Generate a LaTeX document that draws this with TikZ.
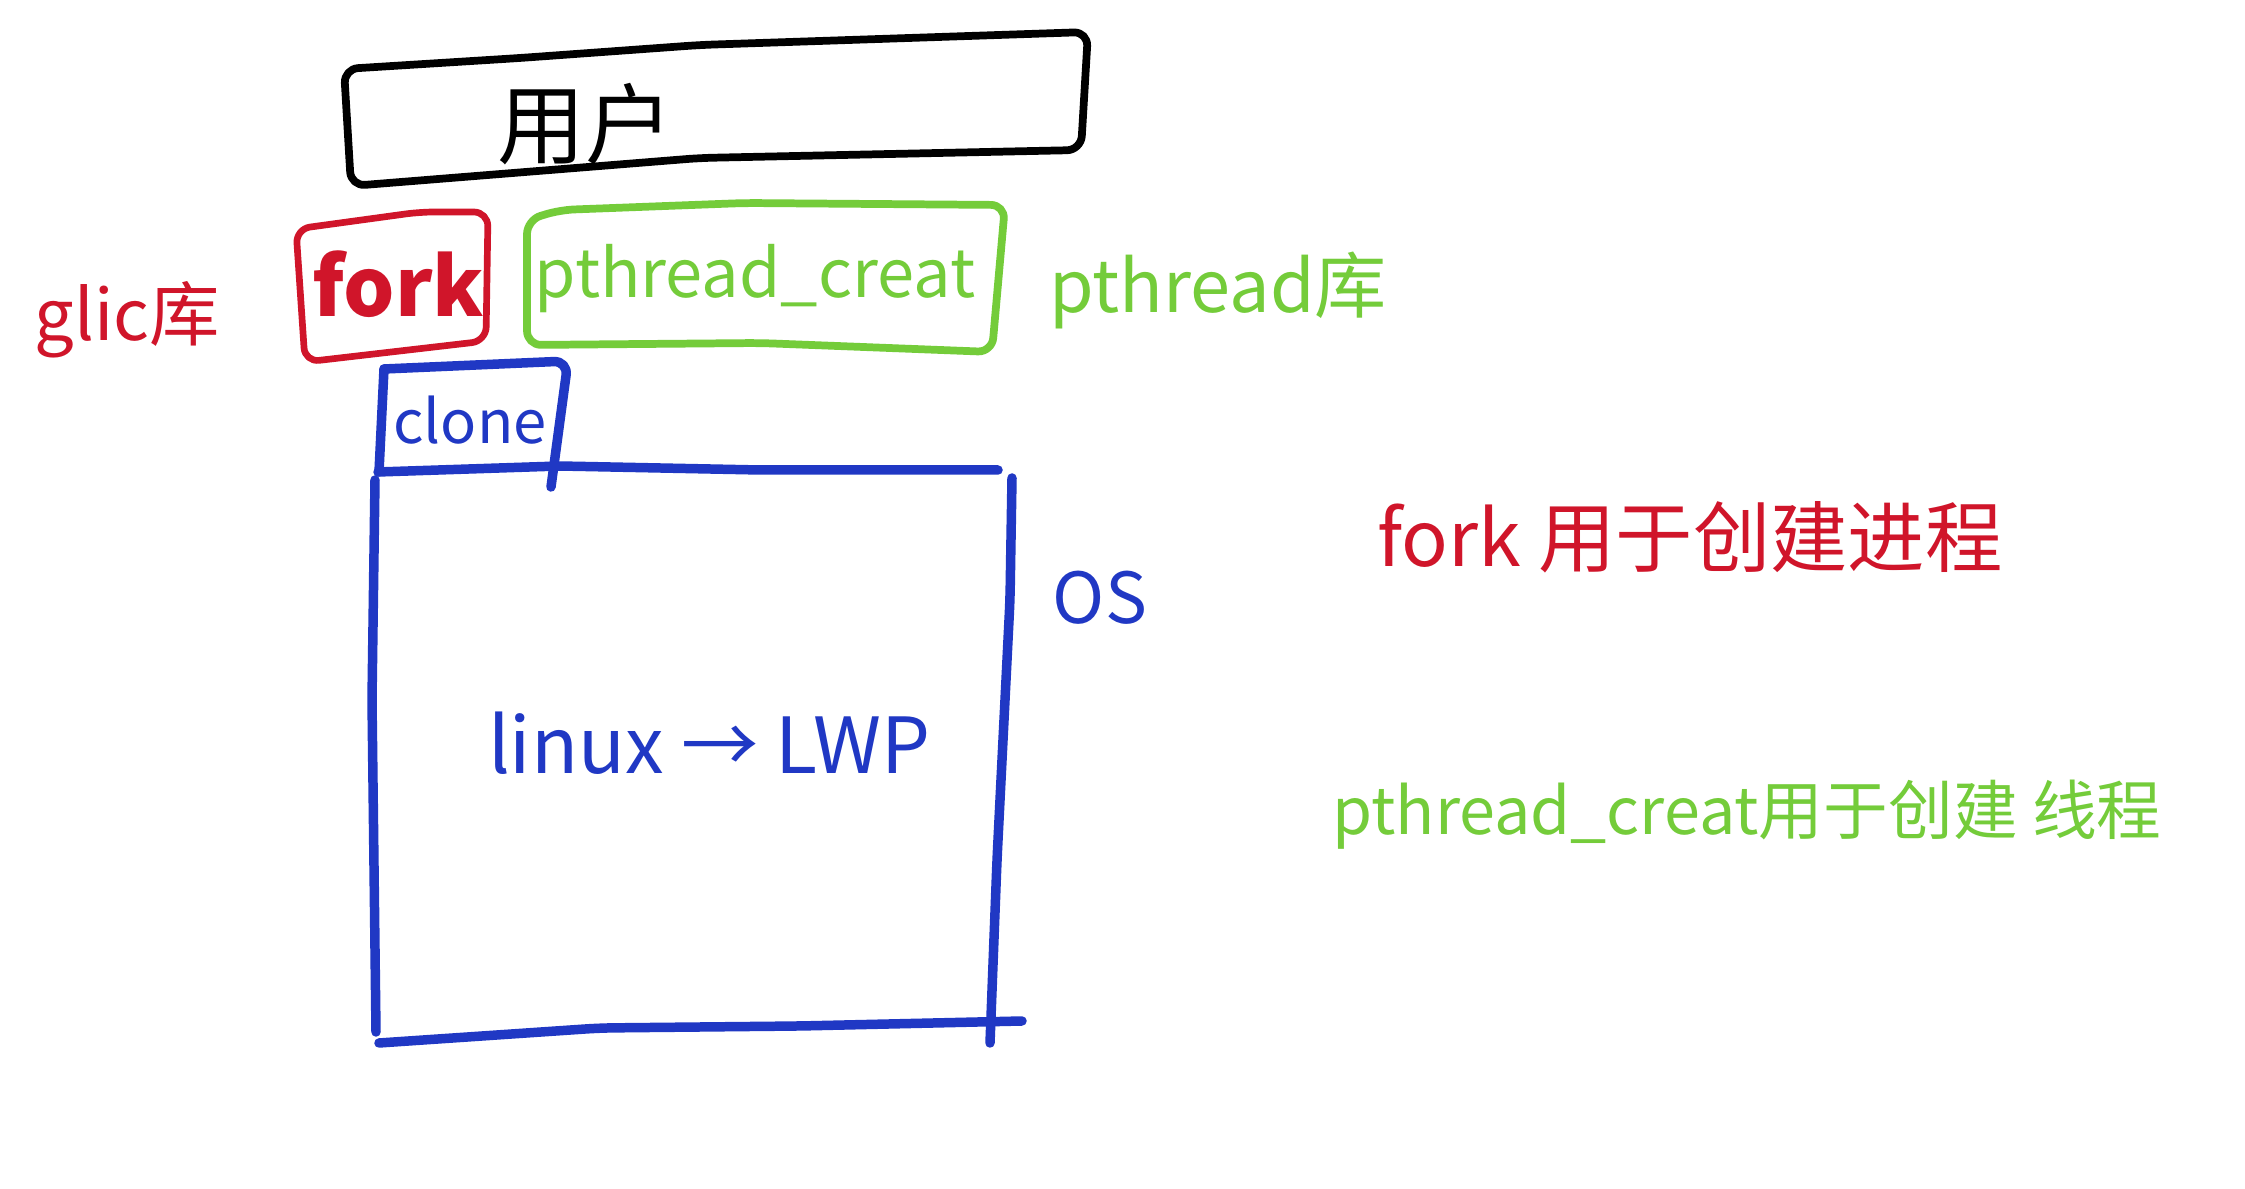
\documentclass[tikz,border=0pt]{standalone}
\usepackage{fontspec}
\newfontfamily\cjk{Noto Sans CJK SC}
\definecolor{hred}{HTML}{D0152A}
\definecolor{hgreen}{HTML}{74CC3A}
\definecolor{hblue}{HTML}{2038C4}
\tikzset{
  pen/.style={line width=2.2pt, line cap=round, line join=round, rounded corners=4pt},
  thickpen/.style={pen, line width=2.7pt},
  lbl/.style={font=\cjk, inner sep=0pt, anchor=center},
}
\begin{document}
\begin{tikzpicture}[x=0.01cm,y=-0.01cm]
\useasboundingbox[fill=white] (0,0) rectangle (2245,1189);
% user box
\draw[pen,black] (344,69) -- (520,58) -- (700,45) -- (1088,32) -- (1081,150) -- (700,158) -- (351,186) -- cycle;
\node[lbl,text=black,font=\cjk\fontsize{25}{28}\selectfont] (user) at (585,124) {用户};
% fork box
\draw[pen,hred,line width=1.9pt] (296,229) -- (420,212) -- (488,212) -- (486,341) -- (305,362) -- cycle;
\node[lbl,text=hred,font=\cjk\fontsize{23}{28}\selectfont\bfseries] (fork) at (398,284) {fork};
% pthread_creat box
\draw[pen,hgreen] (527,220) -- (560,210) -- (745,203) -- (1005,205) -- (992,352) -- (760,343) -- (527,345) -- cycle;
\node[lbl,text=hgreen,font=\cjk\fontsize{19}{24}\selectfont] (pc) at (755,279) {pthread\_creat};
% glic / pthread labels
\node[lbl,text=hred,font=\cjk\fontsize{20}{24}\selectfont] (glic) at (127,320) {glic库};
\node[lbl,text=hgreen,font=\cjk\fontsize{20.5}{24}\selectfont] (plib) at (1218,290) {pthread库};
% clone box
\draw[thickpen,hblue] (384,369) -- (568,361) -- (551,487);
\draw[thickpen,hblue] (384,369) -- (379,472);
\node[lbl,text=hblue,font=\cjk\fontsize{17}{20}\selectfont] (clone) at (470,420) {clone};
% OS box
\draw[thickpen,hblue] (378,472) -- (560,466) -- (760,470) -- (998,470);
\draw[thickpen,hblue] (1012,478) -- (1010,600) -- (997,860) -- (990,1043);
\draw[thickpen,hblue] (379,1043) -- (600,1028) -- (800,1026) -- (1022,1021);
\draw[thickpen,hblue] (375,480) -- (372,700) -- (376,1032);
\node[lbl,text=hblue,font=\cjk\fontsize{20}{24}\selectfont] (os) at (1100,598) {OS};
\node[lbl,text=hblue,font=\cjk\fontsize{22}{26}\selectfont] (lwp) at (709,743) {linux → LWP};
% notes
\node[lbl,text=hred,font=\cjk\fontsize{22}{26}\selectfont] (n1) at (1690,537) {fork 用于创建进程};
\node[lbl,text=hgreen,font=\cjk\fontsize{18.4}{22}\selectfont] (n2) at (1747,815) {pthread\_creat用于创建 线程};
\end{tikzpicture}
\end{document}
